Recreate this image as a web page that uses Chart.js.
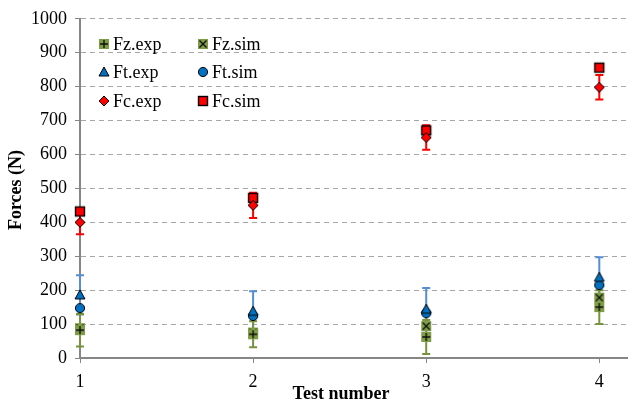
<!DOCTYPE html>
<html>
<head>
<meta charset="utf-8">
<script src="https://cdn.jsdelivr.net/npm/chart.js@4"></script>
<style>
  html, body { margin: 0; padding: 0; background: #ffffff; }
  #c { display: block; }
</style>
</head>
<body>
<canvas id="c" width="634" height="402"></canvas>
<script>
// Test numbers (x positions) and measured / simulated force components (N)
const tests = [1, 2, 3, 4];
const xTickValues = [1, 2, 3, 4];

const fzExp    = [82, 70, 62, 150];
const fzExpErr = [48, 38, 50, 50];
const fzSim    = [88, 75, 94, 178];

const ftExp    = [186, 138, 144, 238];
const ftExpErr = [58, 59, 62, 59];
const ftSim    = [147, 124, 132, 215];

const fcExp    = [400, 450, 650, 798];
const fcExpErr = [35, 37, 36, 36];
const fcSim    = [432, 472, 671, 856];

const FONT = "'Liberation Serif', 'Times New Roman', serif";
const GREEN = '#7F9C47';
const GREEN_BAR = '#77933C';
const BLUE = '#0070C0';
const BLUE_BAR = '#558ED5';
const RED = '#FF0000';

Chart.defaults.font.family = FONT;
Chart.defaults.font.size = 18;
Chart.defaults.color = '#000';

// Small canvases used as point styles (and in the legend)
function makeMarker(kind, fill) {
  const s = 14, c = document.createElement('canvas');
  c.width = s; c.height = s;
  const g = c.getContext('2d');
  const m = s / 2;
  g.fillStyle = fill;
  g.strokeStyle = '#000';
  g.lineWidth = 1;
  if (kind === 'squarePlus' || kind === 'squareCross') {
    g.fillRect(m - 5, m - 5, 10, 10);
    g.lineWidth = 1.4;
    g.strokeStyle = '#111';
    g.beginPath();
    if (kind === 'squarePlus') {
      g.moveTo(m - 4, m); g.lineTo(m + 4, m);
      g.moveTo(m, m - 4); g.lineTo(m, m + 4);
    } else {
      g.moveTo(m - 3.5, m - 3.5); g.lineTo(m + 3.5, m + 3.5);
      g.moveTo(m + 3.5, m - 3.5); g.lineTo(m - 3.5, m + 3.5);
    }
    g.stroke();
  } else if (kind === 'triangle') {
    g.beginPath();
    g.moveTo(m, m - 5); g.lineTo(m + 5, m + 4); g.lineTo(m - 5, m + 4); g.closePath();
    g.fill(); g.stroke();
  } else if (kind === 'circle') {
    g.beginPath(); g.arc(m, m, 4.6, 0, Math.PI * 2);
    g.fill(); g.stroke();
  } else if (kind === 'diamond') {
    g.beginPath();
    g.moveTo(m, m - 5); g.lineTo(m + 5, m); g.lineTo(m, m + 5); g.lineTo(m - 5, m); g.closePath();
    g.fill(); g.stroke();
  } else if (kind === 'square') {
    g.lineWidth = 1.4;
    g.fillRect(m - 4.5, m - 4.5, 9, 9);
    g.strokeRect(m - 4.5, m - 4.5, 9, 9);
  }
  return c;
}

const pts = vals => tests.map((t, i) => ({ x: t, y: vals[i] }));

function series(label, vals, marker, extra) {
  return Object.assign({
    label, data: pts(vals), showLine: false, clip: false,
    pointStyle: marker, pointRadius: 6, pointHoverRadius: 6,
    backgroundColor: 'transparent', borderColor: 'transparent'
  }, extra || {});
}

const datasets = [
  series('Fz.exp', fzExp, makeMarker('squarePlus', GREEN), { errors: fzExpErr, errorColor: GREEN_BAR }),
  series('Fz.sim', fzSim, makeMarker('squareCross', GREEN)),
  series('Ft.exp', ftExp, makeMarker('triangle', BLUE), { errors: ftExpErr, errorColor: BLUE_BAR }),
  series('Ft.sim', ftSim, makeMarker('circle', BLUE)),
  series('Fc.exp', fcExp, makeMarker('diamond', RED), { errors: fcExpErr, errorColor: RED }),
  series('Fc.sim', fcSim, makeMarker('square', RED))
];
datasets.forEach((d, i) => { d.order = i; });

// Vertical error bars with caps, drawn under the markers
const errorBars = {
  id: 'errorBars',
  beforeDatasetsDraw(chart) {
    const { ctx } = chart;
    const x = chart.scales.x, y = chart.scales.y;
    [4, 2, 0].forEach(i => {
      const ds = chart.data.datasets[i];
      if (!ds.errors) return;
      ctx.save();
      ctx.strokeStyle = ds.errorColor;
      ctx.lineWidth = 2;
      ds.data.forEach((p, j) => {
        const e = ds.errors[j];
        const px = x.getPixelForValue(p.x);
        const top = y.getPixelForValue(p.y + e);
        const bot = y.getPixelForValue(p.y - e);
        ctx.beginPath();
        ctx.moveTo(px, top); ctx.lineTo(px, bot);
        ctx.moveTo(px - 4, top); ctx.lineTo(px + 4, top);
        ctx.moveTo(px - 4, bot); ctx.lineTo(px + 4, bot);
        ctx.stroke();
      });
      ctx.restore();
    });
  }
};

// Two-column legend inside the plot area, plus axis titles
const legendAndTitles = {
  id: 'legendAndTitles',
  afterDraw(chart) {
    const { ctx } = chart;
    const cols = [104, 203], rows = [44, 72, 101];
    ctx.save();
    ctx.font = '18px ' + FONT;
    ctx.fillStyle = '#000';
    ctx.textBaseline = 'middle';
    ctx.textAlign = 'left';
    chart.data.datasets.forEach((ds, i) => {
      const cx = cols[i % 2], cy = rows[Math.floor(i / 2)];
      const img = ds.pointStyle;
      ctx.drawImage(img, cx - img.width / 2, cy - img.height / 2);
      ctx.fillText(ds.label, cx + 9, cy + 1);
    });

    ctx.font = 'bold 18px ' + FONT;
    ctx.textAlign = 'center';
    ctx.fillText('Test number', 341, 394);
    ctx.translate(16, 190);
    ctx.rotate(-Math.PI / 2);
    ctx.fillText('Forces (N)', 0, 0);
    ctx.restore();
  }
};

new Chart(document.getElementById('c'), {
  type: 'scatter',
  data: { datasets },
  options: {
    responsive: false,
    animation: false,
    layout: { padding: { top: 18, right: 2, left: 0, bottom: 0 } },
    plugins: { legend: { display: false }, tooltip: { enabled: false } },
    scales: {
      x: {
        type: 'linear',
        min: 1, max: 4.16,
        afterBuildTicks: s => { s.ticks = xTickValues.map(v => ({ value: v })); },
        afterFit: s => { s.height = 44; },
        ticks: {
          autoSkip: false, padding: 8, color: '#000',
          font: { family: FONT, size: 18 },
          callback: v => String(v)
        },
        grid: { drawOnChartArea: false, drawTicks: true, tickLength: 5, color: '#868686', lineWidth: 1 },
        border: { color: '#868686', width: 2 }
      },
      y: {
        min: 0, max: 1000,
        afterFit: s => { s.width = 80; },
        ticks: {
          stepSize: 100, padding: 8, color: '#000',
          font: { family: FONT, size: 18 },
          callback: v => String(v)
        },
        grid: { color: '#A6A6A6', lineWidth: 1, tickLength: 5, tickColor: '#868686' },
        border: { color: '#868686', width: 2, dash: [5, 4] }
      }
    }
  },
  plugins: [errorBars, legendAndTitles]
});
</script>
</body>
</html>
